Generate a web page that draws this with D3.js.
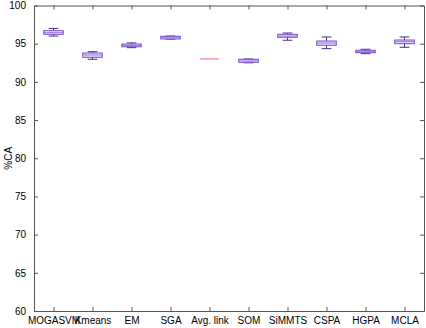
<!DOCTYPE html>
<html>
<head>
<meta charset="utf-8">
<script src="https://cdn.jsdelivr.net/npm/d3@7"></script>
<style>
  body { margin: 0; background: #fff; }
  text { font-family: "Liberation Sans", Arial, sans-serif; }
</style>
</head>
<body>
<div id="chart"></div>
<script>
// methods compared
var methods = ["MOGASVM", "Kmeans", "EM", "SGA", "Avg. link", "SOM", "SiMMTS", "CSPA", "HGPA", "MCLA"];

// box statistics (%CA)
var whiskerHigh = [97.0, 93.95, 95.1, 96.0, 93.0, 93.0, 96.4, 95.88, 94.27, 95.88];
var q3          = [96.7, 93.78, 94.95, 95.97, 93.0, 92.96, 96.23, 95.35, 94.14, 95.48];
var medians     = [96.44, 93.52, 94.75, 95.78, 93.0, 92.74, 96.0, 95.09, 94.0, 95.26];
var q1          = [96.23, 93.22, 94.6, 95.62, 93.0, 92.57, 95.84, 94.8, 93.82, 95.0];
var whiskerLow  = [96.0, 92.96, 94.48, 95.6, 93.0, 92.5, 95.45, 94.35, 93.69, 94.53];

var yTicks = [60, 65, 70, 75, 80, 85, 90, 95, 100];

var boxes = methods.map(function (m, i) {
  return { name: m, i: i + 1, hi: whiskerHigh[i], q3: q3[i], med: medians[i], q1: q1[i], lo: whiskerLow[i] };
});

var width = 426, height = 328;
var plotL = 34, plotR = 424, plotT = 5.5, plotB = 311;

var svg = d3.select("#chart").append("svg")
  .attr("width", width)
  .attr("height", height);

svg.append("rect").attr("width", width).attr("height", height).attr("fill", "#fff");

var x = d3.scaleLinear().domain([0.5, 10.5]).range([plotL, plotR]);
var y = d3.scaleLinear().domain([60, 100]).range([plotB, plotT]);

var axisColor = "#555";

// y axis, ticks pointing inside
var yAxis = svg.append("g")
  .attr("transform", "translate(" + plotL + ",0)")
  .call(d3.axisLeft(y).tickValues(yTicks).tickSizeInner(-4).tickSizeOuter(0).tickPadding(8));

// right side ticks
var yAxisR = svg.append("g")
  .attr("transform", "translate(" + plotR + ",0)")
  .call(d3.axisRight(y).tickValues(yTicks).tickSizeInner(-4).tickSizeOuter(0).tickFormat(""));

// bottom axis with method names
var xAxis = svg.append("g")
  .attr("transform", "translate(0," + plotB + ")")
  .call(d3.axisBottom(x).tickValues(d3.range(1, 11)).tickSizeInner(-4).tickSizeOuter(0).tickPadding(6)
    .tickFormat(function (d) { return methods[d - 1]; }));

// top ticks
var xAxisT = svg.append("g")
  .attr("transform", "translate(0," + plotT + ")")
  .call(d3.axisTop(x).tickValues(d3.range(1, 11)).tickSizeInner(-4).tickSizeOuter(0).tickFormat(""));

[yAxis, yAxisR, xAxis, xAxisT].forEach(function (g) {
  g.select(".domain").attr("stroke", axisColor);
  g.selectAll(".tick line").attr("stroke", axisColor);
  g.selectAll(".tick text").attr("fill", "#000").style("font-size", "10px");
});

// y label
svg.append("text")
  .attr("transform", "translate(12," + y(80) + ") rotate(-90)")
  .attr("text-anchor", "middle")
  .style("font-size", "10px")
  .text("%CA");

// boxplots
var boxW = x(1.25) - x(1);
var capW = x(1.125) - x(1);

var g = svg.selectAll(".box").data(boxes).enter().append("g").attr("class", "box");

// whiskers
g.append("line")
  .attr("x1", function (d) { return x(d.i); })
  .attr("x2", function (d) { return x(d.i); })
  .attr("y1", function (d) { return y(d.hi); })
  .attr("y2", function (d) { return y(d.lo); })
  .attr("stroke", function (d) { return d.hi === d.lo ? "none" : "#4b2a88"; })
  .attr("stroke-width", 1);

g.selectAll(".cap").data(function (d) { return d.hi === d.lo ? [] : [[d.i, d.hi], [d.i, d.lo]]; })
  .enter().append("line")
  .attr("x1", function (d) { return x(d[0]) - capW; })
  .attr("x2", function (d) { return x(d[0]) + capW; })
  .attr("y1", function (d) { return y(d[1]); })
  .attr("y2", function (d) { return y(d[1]); })
  .attr("stroke", "#4b2a88");

g.append("rect")
  .attr("x", function (d) { return x(d.i) - boxW; })
  .attr("width", boxW * 2)
  .attr("y", function (d) { return y(d.q3); })
  .attr("height", function (d) { return y(d.q1) - y(d.q3); })
  .attr("fill", "#efe6fc")
  .attr("stroke", function (d) { return d.q3 === d.q1 ? "none" : "#7548c8"; })
  .attr("stroke-width", 1);

g.append("line")
  .attr("x1", function (d) { return x(d.i) - boxW; })
  .attr("x2", function (d) { return x(d.i) + boxW; })
  .attr("y1", function (d) { return y(d.med); })
  .attr("y2", function (d) { return y(d.med); })
  .attr("stroke", function (d) { return d.q3 === d.q1 ? "#ff6060" : "#9a70e0"; })
  .attr("stroke-width", 1);
</script>
</body>
</html>
